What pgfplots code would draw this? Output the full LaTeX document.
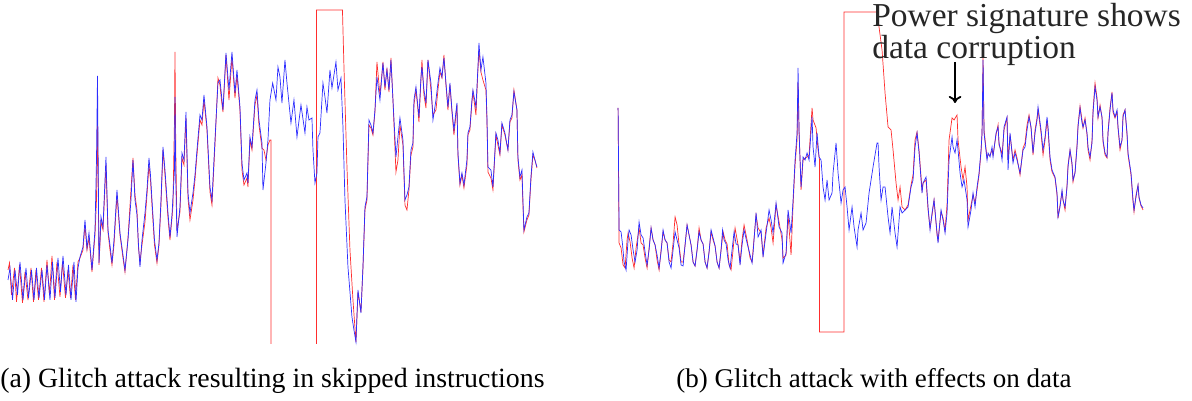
\documentclass[border=0pt]{standalone}
\usepackage{fontspec}
\setmainfont{Liberation Serif}
\usepackage{pgfplots}
\pgfplotsset{compat=1.18}
\usetikzlibrary{arrows.meta}

\definecolor{trblue}{RGB}{45,45,255}
\definecolor{trred}{RGB}{255,45,45}

% traces in pixel units of the original figure (y grows downwards)
\pgfplotstableread{
x y
8 280
10 268
12.5 300
15 270
17.5 295
20 262
23 300
26 268
28.5 298
31.5 270
34 300
36.5 268
39 298
42 270
44.5 300
47 265
50 300
52.5 262
55 298
58 258
60.5 292
63 256
66 295
68.5 265
71 300
74 262
76 302
78 268
80 257
83 247
85 220
87 248
89 233
92 270
95 230
96.5 160
97.5 76
98.5 200
99 263
101 217
103 227
106 157
108 230
110 245
112 263
114 240
117 190
120 233
123 255
125 270
128 240
131 200
133 160
135 200
137 215
138.5 245
140 267
142 240
145 213
147 190
149 158
150.5 175
152 200
154.5 240
157 260
159 243
161 200
163 147
165 170
168 213
170 237
172 215
173 197
174.5 170
175 97
175.8 180
177 237
180 207
182 153
184 160
186 112
188 193
190 213
193 193
195 175
197 150
200 115
202 120
204 95
207 127
210 187
212 200
215 140
218 83
220 80
221.5 95
223 110
226 53
229 90
232 52
235 93
237 70
240 107
242 163
244 180
247 173
248 183
250 137
252 147
255 100
257 90
259 120
262 143
263 190
266 163
268 140
270 100
272.7 83
276 100
278 67
280 77
282 103
285 60
287 83
291 123
294 100
297 137
301 105
305 133
307 107
309 120
312 118
313 150
315 183
317 173
318 137
320 133
323 83
325 97
327 113
330 70
332 88
336 62
338 90
341 78
343 127
345 200
348 267
352 317
354 330
356 342
358 290
361 313
363 267
365 207
367 197
369 120
371 125
373 133
375 110
377 77
380 100
383 63
385 87
387 70
389 90
391 60
393 100
396 157
398 137
400 118
403 140
405 200
407 195
409 187
411 150
413 143
414 100
416 87
418 107
419 117
421 77
422 67
424 90
426 103
428 60
431 83
433 120
436 100
438 83
440 68
442 77
444 58
446 83
448 107
450 83
452 110
454 130
457 103
458 153
460 183
462 173
464 185
467 160
468 133
470 127
472 100
473 90
476 107
478 67
479 43
481 70
483 57
486 83
487 117
488 167
491 170
493 187
496 133
498 140
500 153
502 123
505 133
508 150
510 120
512 115
514 92
517 110
518 157
520 177
522 170
523 200
524 230
527 217
529 213
531 177
533 152
535 160
537 167
}\leftblue

\pgfplotstableread{
x y
8 270
9.5 263
11.5 295
14.5 268
16.5 302
19.5 265
22.5 303
25 272
28 300
31 268
33.5 302
36 270
38.5 300
41.5 268
44 302
47 260
49.5 295
52 256
54.5 300
57 262
60 297
62.5 262
65.5 298
68 270
70.5 298
73 265
75.5 300
78 262
80 258
83 250
85 225
87 250
89 238
92 272
95 235
96.5 200
97.5 117
98.5 210
99 265
101 222
103 230
106 165
108 232
110 250
112 265
114 245
117 195
120 235
123 258
125 272
128 238
131 190
133 158
135 195
137 210
138.5 248
140 262
142 245
145 222
147 195
149 165
150.5 180
152 205
154.5 245
157 263
159 245
161 205
163 150
165 175
168 218
170 240
172 218
173 205
174.5 120
175 52
175.8 150
177 230
180 212
182 158
184 165
186 118
188 198
190 220
193 200
195 180
197 155
200 120
202 125
204 100
207 130
210 192
212 205
215 145
218 78
220 85
221.5 100
223 112
226 55
229 100
232 57
235 98
237 75
240 110
242 170
244 185
247 178
248 187
250 140
252 150
255 105
257 95
259 125
262 148
264 150
266 160
268 145
270 140
271 140
271 344
290 nan
316.5 344
316.5 10
342.5 10
344 67
347 167
350 250
353 300
356 342
358 292
361 312
363 268
365 210
367 200
369 125
371 128
373 135
375 112
377 62
380 95
383 62
385 90
387 68
389 92
391 58
393 100
396 172
398 160
400 125
403 145
405 205
407 210
409 190
411 155
413 147
414 105
416 90
418 110
419 122
421 80
422 60
424 95
426 108
428 60
431 90
433 115
436 110
438 90
440 72
442 78
444 55
446 85
448 110
450 85
452 112
454 135
457 105
458 155
460 185
462 175
464 188
467 165
468 135
470 130
472 102
473 92
476 115
478 70
479 50
481 72
483 80
486 90
487 120
488 172
491 178
493 190
496 135
498 145
500 155
502 125
505 135
508 150
510 122
512 118
514 90
517 110
518 160
520 180
522 175
523 205
524 232
527 220
529 215
531 180
533 155
535 160
537 168
}\leftred

\pgfplotstableread{
x y
618 108
619 230
621 232
622.5 245
624 262
626 270
628 240
629 230
631 235
633 250
635 262
637 250
639 222
641 235
643 238
645 252
647 265
649 250
651 228
653 240
655 245
657 255
659 268
661 252
663 230
665 240
667 243
669 262
671 268
673 250
675 232
677 240
679 248
681 265
683 266
685 245
687 225
689 235
691 245
693 262
695 266
697 250
699 232
701 240
703 244
705 262
707 268
709 252
711 230
713 238
715 246
717 262
719 268
721 250
722.5 230
724 240
726 244
728 260
730 268
732 250
734 232
736 244
738 245
740 265
742 245
744 230
747 243
750 255
752 263
753 253
756 213
758 237
761 230
763 257
766 233
769 210
771 220
773 233
776 203
779 227
782 233
783 263
786 253
788 210
791 233
793 200
795 160
797 133
798 68
799 133
801 187
803 157
805 160
807 153
809 160
812 117
813 147
815 167
817 133
819 157
821 160
823 187
825 200
827 180
829 200
832 193
833 173
836 143
838 173
841 203
843 190
845 187
847 207
849 230
852 207
854 227
857 247
858 230
861 213
863 230
866 223
869 193
873 167
877 143
878 143
879 167
881 200
883 187
885 187
888 217
890 233
892 207
895 233
897 247
900 207
902 213
905 210
908 207
911 187
913 180
915 147
917 133
919 153
922 193
923 183
926 177
928 207
930 230
932 213
934 200
937 233
938 243
941 210
943 220
945 233
947 213
949 160
952 137
953 147
955 153
957 140
958 150
960 173
962 187
964 180
967 200
968 227
971 210
973 193
975 207
977 187
979 173
981 150
982 133
983 60
984 133
987 160
988 153
990 157
992 147
993 157
996 133
998 127
999 143
1001 153
1002 160
1004 127
1007 117
1008 170
1010 133
1013 163
1015 153
1017 160
1020 173
1023 150
1025 147
1027 130
1029 117
1031 127
1033 153
1035 133
1037 120
1038 107
1041 130
1043 150
1045 137
1047 117
1048 127
1050 157
1052 170
1055 177
1057 193
1058 217
1060 207
1062 190
1063 200
1065 207
1067 187
1068 167
1070 150
1072 163
1073 180
1075 173
1077 147
1078 127
1080 108
1082 123
1083 127
1085 120
1087 133
1088 147
1090 157
1092 143
1093 113
1095 87
1097 100
1098 117
1100 107
1102 117
1103 140
1105 153
1107 157
1108 133
1110 110
1112 93
1113 110
1115 117
1117 110
1118 127
1120 147
1122 140
1123 117
1125 110
1127 133
1128 153
1131 173
1133 200
1134 210
1136 197
1138 185
1139 197
1141 205
1143 208
}\rightblue

\pgfplotstableread{
x y
618 108
619 243
621 248
623 265
625 268
627 240
628 233
630 242
632 258
634 268
636 248
639 228
641 243
643 245
645 258
647 268
649 248
651 228
653 240
655 245
657 260
659 270
661 250
663 232
665 240
667 243
669 260
671 262
673 243
675 217
677 225
679 245
681 262
683 262
685 245
687 225
689 235
691 245
693 262
695 266
697 250
699 228
701 240
703 244
705 262
707 268
709 252
711 232
713 240
715 246
717 262
719 268
721 250
723 232
725 240
727 244
729 265
731 270
733 250
735 228
738 245
740 262
742 240
744 225
747 240
750 258
752 262
753 250
756 215
758 228
761 233
763 255
766 228
769 218
771 228
773 243
776 205
779 222
782 240
783 258
786 255
788 215
791 255
793 205
795 165
797 140
798 83
799 130
801 190
803 160
805 158
807 157
809 155
812 108
813 120
816 128
818 150
819.5 160
819.5 332
844 332
844 12
877 12
882 50
885 93
888 127
891 130
893 150
896 183
898 200
900 187
902 207
905 210
908 205
911 185
913 175
915 140
917 132
919 150
922 190
923 183
926 180
928 210
930 228
932 215
934 200
937 235
938 240
941 212
943 218
945 230
947 205
949 140
952 118
954 120
957 115
958 140
961 167
963 180
965 167
967 187
968 220
971 205
973 195
975 203
977 190
979 175
981 152
982 133
983 58
984 130
987 158
988 155
990 155
992 150
993 155
996 135
998 125
999 145
1001 150
1002 155
1004 130
1007 118
1008 160
1010 135
1013 160
1015 150
1017 158
1020 175
1023 148
1025 143
1027 125
1029 115
1031 128
1033 155
1035 130
1037 118
1038 110
1041 133
1043 155
1045 140
1047 120
1048 130
1050 160
1052 172
1055 178
1057 195
1058 218
1060 205
1062 192
1063 200
1065 210
1067 185
1068 165
1070 150
1072 165
1073 182
1075 172
1077 145
1078 125
1080 106
1082 120
1083 128
1085 118
1087 135
1088 150
1090 160
1092 140
1093 110
1095 83
1097 98
1098 118
1100 105
1102 118
1103 142
1105 155
1107 158
1108 132
1110 108
1112 92
1113 112
1115 118
1117 112
1118 128
1120 150
1122 140
1123 115
1125 110
1127 135
1128 155
1131 175
1133 202
1134 212
1136 195
1138 185
1139 198
1141 206
1143 210
}\rightred

\begin{document}
\begin{tikzpicture}
\pgfplotsset{
  trace/.style={
    x=0.025cm, y=0.025cm, y dir=reverse,
    ymin=0, ymax=401,
    hide axis, clip=false,
    unbounded coords=jump,
    scale only axis,
  },
}
\begin{axis}[trace, xmin=0, xmax=590, at={(0,0)}, anchor=south west]
\path (rel axis cs:0,0) rectangle (rel axis cs:1,1);
\addplot[trred, line width=0.5pt, no marks] table {\leftred};
\addplot[trblue, line width=0.5pt, no marks] table {\leftblue};
\node[anchor=base west, inner sep=0pt, font=\fontsize{19.8}{22}\selectfont]
  at (axis cs:0,388) {(a) Glitch attack resulting in skipped instructions};
\end{axis}

\begin{axis}[trace, xmin=590, xmax=1192, at={(14.75cm,0)}, anchor=south west]
\path (rel axis cs:0,0) rectangle (rel axis cs:1,1);
\addplot[trred, line width=0.5pt, no marks] table {\rightred};
\addplot[trblue, line width=0.5pt, no marks] table {\rightblue};
\node[anchor=base west, inner sep=0pt, font=\fontsize{19.2}{22}\selectfont]
  at (axis cs:676,388) {(b) Glitch attack with effects on data};
\node[anchor=north west, inner sep=0pt, align=left,
      font=\fontsize{23.8}{20}\selectfont, text=black!85]
  at (axis cs:872,3) {Power signature shows\\data corruption};
\draw[line width=1.3pt, -{To[length=5pt,width=9pt]}]
  (axis cs:955,62) -- (axis cs:955,103);
\end{axis}
\end{tikzpicture}
\end{document}
